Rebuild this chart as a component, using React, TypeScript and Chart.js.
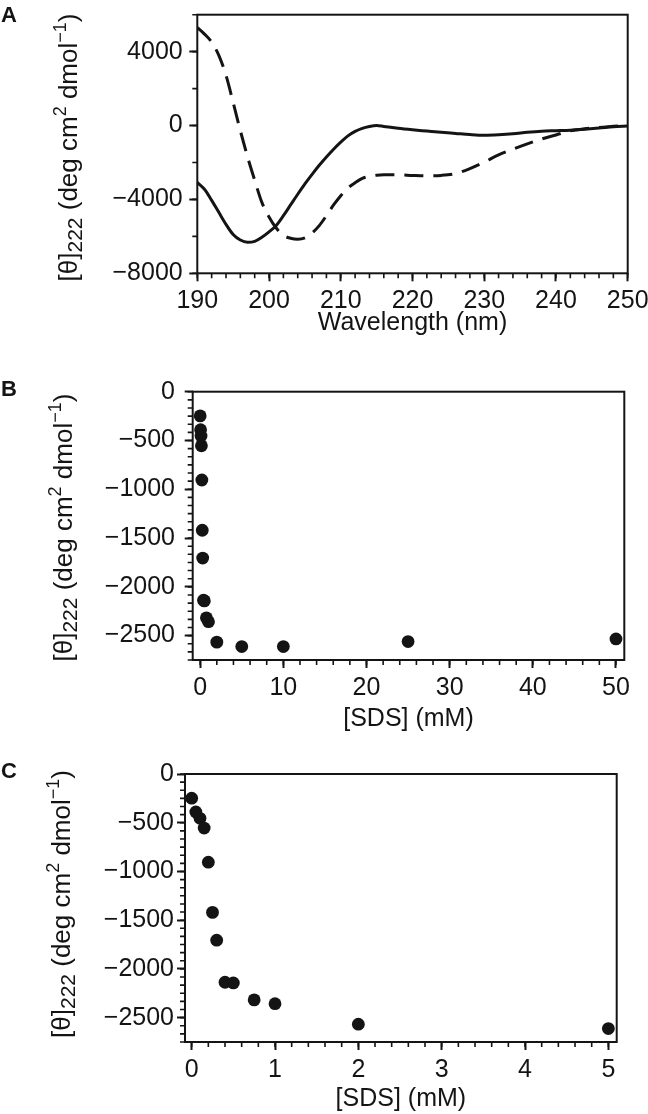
import { useEffect, useRef } from "react";
import { Chart, registerables } from "chart.js";

Chart.register(...registerables);

const FONT = "'Liberation Sans', Arial, Helvetica, sans-serif";
const INK = "#141414";

// ---------- Panel A: CD spectra ----------
const wavelengthNm = [
  190, 191, 192, 193, 194, 195, 196, 197, 198, 199, 200, 201, 202, 203, 204, 205, 206, 207, 208, 209, 210,
  211, 212, 213, 214, 215, 216, 218, 220, 222, 224, 226, 228, 230, 232, 234, 236, 238, 240, 242, 244, 246,
  248, 250,
];
const thetaSolid = [
  -3080, -3450, -4050, -4700, -5350, -5900, -6200, -6320, -6270, -6050, -5760, -5410, -4880, -4300, -3720,
  -3160, -2640, -2150, -1700, -1280, -900, -560, -320, -150, -50, 0, -50, -150, -230, -300, -370, -430, -490,
  -525, -500, -450, -370, -310, -280, -250, -200, -140, -70, -20,
];
const thetaDashed = [
  5300, 4950, 4520, 3800, 2720, 1250, -280, -1690, -2960, -4160, -4950, -5550, -5950, -6100, -6150, -6080,
  -5820, -5420, -4880, -4300, -3800, -3380, -3100, -2860, -2760, -2690, -2670, -2670, -2700, -2720, -2700,
  -2600, -2330, -1980, -1590, -1280, -990, -730, -510, -290, -180, -100, -40, 20,
];
const aXTicks = [190, 200, 210, 220, 230, 240, 250];
const aYTicks = [-8000, -4000, 0, 4000];

// ---------- Panels B & C: SDS titration ----------
const sdsConc = [0, 0.05, 0.1, 0.15, 0.2, 0.25, 0.3, 0.4, 0.5, 0.75, 1, 2, 5, 10, 25, 50];
const theta222 = [
  -248, -390, -455, -555, -905, -1420, -1705, -2137, -2144, -2318, -2357, -2567, -2612, -2612, -2561, -2534,
];
const bXTicks = [0, 10, 20, 30, 40, 50];
const cXTicks = [0, 1, 2, 3, 4, 5];
const sdsYTicks = [0, -500, -1000, -1500, -2000, -2500];

const yTitleSegments = [
  { t: "[θ]", s: 1, dy: 0 },
  { t: "222", s: 0.8, dy: 0.2 },
  { t: " (deg cm", s: 1, dy: 0 },
  { t: "2", s: 0.68, dy: -0.42 },
  { t: " dmol", s: 1, dy: 0 },
  { t: "\u22121", s: 0.68, dy: -0.42 },
  { t: ")", s: 1, dy: 0 },
];

const fmt = (v: number) => (v < 0 ? "\u2212" + Math.abs(v) : String(v));

const decorPlugin = {
  id: "decor",
  afterDraw(chart: any, _args: any, o: any) {
    const { ctx, chartArea: a, scales } = chart;
    const xs = scales.x;
    const ys = scales.y;
    ctx.save();
    // frame
    ctx.strokeStyle = INK;
    ctx.lineWidth = 2;
    ctx.strokeRect(a.left, a.top, a.right - a.left, a.bottom - a.top);
    // minor ticks
    ctx.lineWidth = 1.6;
    ctx.beginPath();
    const i0 = Math.ceil(xs.min / o.xMinorStep - 1e-6);
    const i1 = Math.floor(xs.max / o.xMinorStep + 1e-6);
    for (let i = i0; i <= i1; i++) {
      const px = xs.getPixelForValue(i * o.xMinorStep);
      ctx.moveTo(px, a.bottom);
      ctx.lineTo(px, a.bottom + 5);
    }
    const j0 = Math.ceil(ys.min / o.yMinorStep - 1e-6);
    const j1 = Math.floor(ys.max / o.yMinorStep + 1e-6);
    for (let j = j0; j <= j1; j++) {
      const py = ys.getPixelForValue(j * o.yMinorStep);
      ctx.moveTo(a.left - 5, py);
      ctx.lineTo(a.left, py);
    }
    ctx.stroke();
    ctx.restore();

    // rotated y title with sub/superscripts
    ctx.save();
    const size = 26;
    ctx.fillStyle = INK;
    ctx.textBaseline = "alphabetic";
    ctx.textAlign = "left";
    let total = 0;
    const widths = yTitleSegments.map((sg) => {
      ctx.font = `${Math.round(size * sg.s)}px ${FONT}`;
      const w = ctx.measureText(sg.t).width;
      total += w;
      return w;
    });
    ctx.translate(o.yTitleX, (a.top + a.bottom) / 2 + o.yTitleShift);
    ctx.rotate(-Math.PI / 2);
    let x = -total / 2;
    yTitleSegments.forEach((sg, i) => {
      ctx.font = `${Math.round(size * sg.s)}px ${FONT}`;
      ctx.fillText(sg.t, x, sg.dy * size);
      x += widths[i];
    });
    ctx.restore();

    // panel letter
    ctx.save();
    ctx.fillStyle = INK;
    ctx.textBaseline = "alphabetic";
    ctx.textAlign = "left";
    ctx.font = "bold 22px Arial, 'Liberation Sans', sans-serif";
    ctx.fillText(o.letter, 1, o.letterY);
    ctx.restore();
  },
};

type Spec = {
  height: number;
  area: { left: number; top: number; right: number; bottom: number };
  xMin: number;
  xMax: number;
  xTicks: number[];
  xMinorStep: number;
  yMin: number;
  yMax: number;
  yTicks: number[];
  yMinorStep: number;
  yLabelPad: number;
  xTitle: string;
  xTitlePad: number;
  letter: string;
  letterY: number;
  yTitleX: number;
  yTitleShift: number;
  datasets: any[];
};

function makeConfig(s: Spec): any {
  return {
    type: "line",
    data: { datasets: s.datasets },
    plugins: [decorPlugin],
    options: {
      responsive: false,
      animation: false,
      devicePixelRatio: 1,
      events: [],
      layout: { padding: { left: 0, top: s.area.top, right: 648 - s.area.right, bottom: 0 } },
      plugins: {
        legend: { display: false },
        tooltip: { enabled: false },
        decor: {
          xMinorStep: s.xMinorStep,
          yMinorStep: s.yMinorStep,
          letter: s.letter,
          letterY: s.letterY,
          yTitleX: s.yTitleX,
          yTitleShift: s.yTitleShift,
        },
      },
      scales: {
        x: {
          type: "linear",
          min: s.xMin,
          max: s.xMax,
          afterBuildTicks: (sc: any) => {
            sc.ticks = s.xTicks.map((v) => ({ value: v }));
          },
          afterFit: (sc: any) => {
            sc.height = s.height - s.area.bottom;
            sc.paddingLeft = 0;
            sc.paddingRight = 0;
          },
          grid: { display: true, drawOnChartArea: false, drawTicks: true, tickLength: 8, tickWidth: 2, tickColor: INK },
          border: { display: false },
          ticks: {
            color: INK,
            font: { family: FONT, size: 25 },
            padding: 5,
            maxRotation: 0,
            autoSkip: false,
            callback: (v: number) => fmt(v),
          },
          title: {
            display: true,
            text: s.xTitle,
            color: INK,
            font: { family: FONT, size: 25 },
            padding: { top: 0, bottom: s.xTitlePad },
          },
        },
        y: {
          type: "linear",
          min: s.yMin,
          max: s.yMax,
          afterBuildTicks: (sc: any) => {
            sc.ticks = s.yTicks.map((v) => ({ value: v }));
          },
          afterFit: (sc: any) => {
            sc.width = s.area.left;
            sc.paddingTop = 0;
            sc.paddingBottom = 0;
          },
          grid: { display: true, drawOnChartArea: false, drawTicks: true, tickLength: 8, tickWidth: 2, tickColor: INK },
          border: { display: false },
          ticks: {
            color: INK,
            font: { family: FONT, size: 25 },
            padding: s.yLabelPad,
            autoSkip: false,
            callback: (v: number) => fmt(v),
          },
        },
      },
    },
  };
}

const lineDs = (ys: number[], dash: number[]) => ({
  data: wavelengthNm.map((x, i) => ({ x, y: ys[i] })),
  borderColor: INK,
  borderWidth: 3,
  borderDash: dash,
  pointRadius: 0,
  fill: false,
  cubicInterpolationMode: "monotone",
});

const dotDs = (maxX: number) => ({
  type: "scatter",
  data: sdsConc.map((x, i) => ({ x, y: theta222[i] })).filter((p) => p.x <= maxX),
  backgroundColor: INK,
  borderColor: INK,
  borderWidth: 0,
  pointRadius: 6.4,
  showLine: false,
});

const specA: Spec = {
  height: 345,
  area: { left: 197.3, top: 14.7, right: 627.7, bottom: 273.3 },
  xMin: 190,
  xMax: 250,
  xTicks: aXTicks,
  xMinorStep: 2,
  yMin: -8000,
  yMax: 6000,
  yTicks: aYTicks,
  yMinorStep: 2000,
  yLabelPad: 6.6,
  xTitle: "Wavelength (nm)",
  xTitlePad: 7,
  letter: "A",
  letterY: 22,
  yTitleX: 77,
  yTitleShift: 3.5,
  datasets: [lineDs(thetaSolid, []), lineDs(thetaDashed, [19, 10])],
};

const specB: Spec = {
  height: 360,
  area: { left: 192.7, top: 11.7, right: 624.3, bottom: 280 },
  xMin: -0.9,
  xMax: 51,
  xTicks: bXTicks,
  xMinorStep: 2,
  yMin: -2750,
  yMax: 0,
  yTicks: sdsYTicks,
  yMinorStep: 500 / 6,
  yLabelPad: 9.7,
  xTitle: "[SDS] (mM)",
  xTitlePad: 6,
  letter: "B",
  letterY: 16,
  yTitleX: 72,
  yTitleShift: 1.7,
  datasets: [dotDs(60)],
};

const specC: Spec = {
  height: 354,
  area: { left: 185, top: 14, right: 616.7, bottom: 282 },
  xMin: -0.08,
  xMax: 5.1,
  xTicks: cXTicks,
  xMinorStep: 0.2,
  yMin: -2750,
  yMax: 0,
  yTicks: sdsYTicks,
  yMinorStep: 500 / 6,
  yLabelPad: 3,
  xTitle: "[SDS] (mM)",
  xTitlePad: 0,
  letter: "C",
  letterY: 18,
  yTitleX: 70,
  yTitleShift: -4,
  datasets: [dotDs(5)],
};

function Panel({ top, spec }: { top: number; spec: Spec }) {
  const ref = useRef<HTMLCanvasElement>(null);
  useEffect(() => {
    const chart = new Chart(ref.current as HTMLCanvasElement, makeConfig(spec));
    return () => chart.destroy();
  }, [spec]);
  return (
    <canvas
      ref={ref}
      width={648}
      height={spec.height}
      style={{ position: "absolute", left: 0, top, width: 648, height: spec.height, display: "block" }}
    />
  );
}

export default function App() {
  return (
    <div style={{ position: "absolute", left: 0, top: 0, width: 648, height: 1114, background: "#fff", overflow: "hidden" }}>
      <Panel top={0} spec={specA} />
      <Panel top={380} spec={specB} />
      <Panel top={760} spec={specC} />
    </div>
  );
}
